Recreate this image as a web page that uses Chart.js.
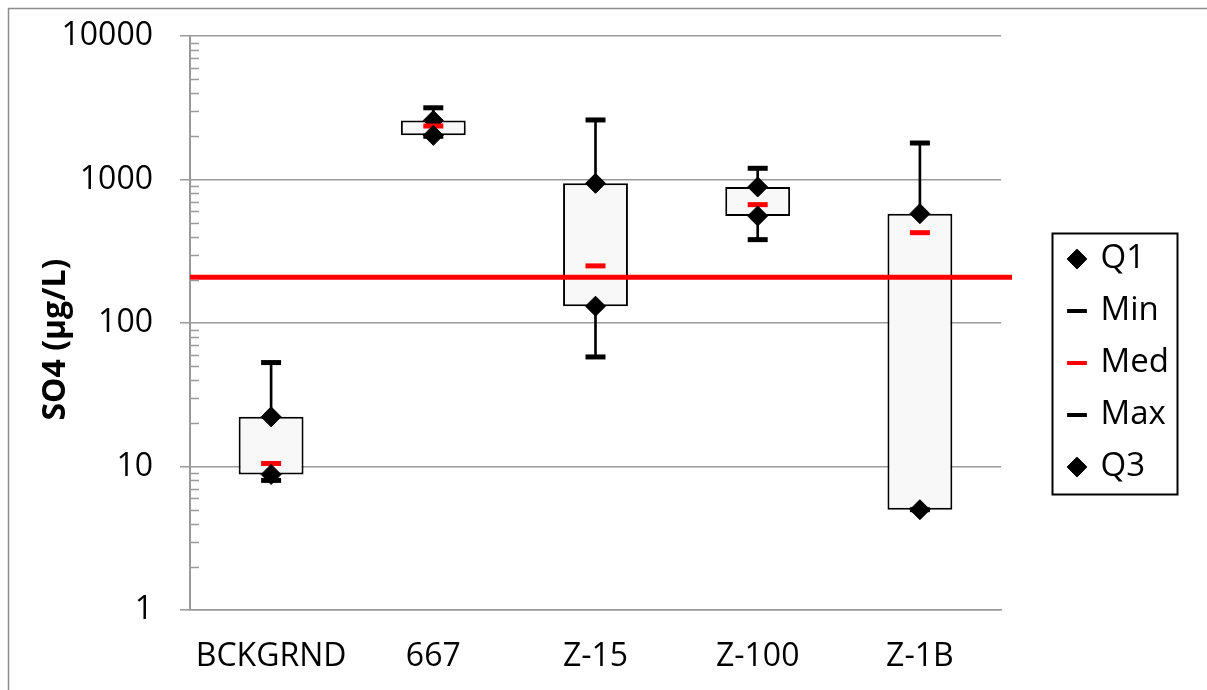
<!DOCTYPE html>
<html>
<head>
<meta charset="utf-8">
<script src="https://cdn.jsdelivr.net/npm/chart.js@4/dist/chart.umd.min.js"></script>
<style>
  body { margin: 0; background: #fff; }
  canvas { display: block; }
</style>
</head>
<body>
<canvas id="boxChart" width="1207" height="690"></canvas>
<script>
// data
const categories = ['BCKGRND', '667', 'Z-15', 'Z-100', 'Z-1B'];
const minVals = [8.0, 2000, 58, 381, 5.0];
const q1Vals  = [8.8, 2030, 131, 557, 5.0];
const medVals = [10.5, 2360, 250, 668, 426];
const q3Vals  = [22.2, 2580, 940, 887, 578];
const maxVals = [53, 3160, 2600, 1197, 1796];
const limitValue = 208;           // red guideline
const yTickValues = [1, 10, 100, 1000, 10000];

Chart.defaults.font.family = "'Open Sans', sans-serif";
Chart.defaults.color = '#000';

const axisGray = '#9a9a9a';

// frame, minor log ticks, red limit line, legend box
const extras = {
  id: 'extras',
  beforeDraw(chart) {
    const ctx = chart.ctx;
    ctx.save();
    ctx.strokeStyle = '#8c8c8c';
    ctx.lineWidth = 1.5;
    ctx.strokeRect(8.5, 8.5, 2000, 2000);
    ctx.restore();
  },
  afterDatasetsDraw(chart) {
    const ctx = chart.ctx;
    const y = chart.scales.y;
    const area = chart.chartArea;
    const py = y.getPixelForValue(limitValue);
    ctx.save();
    ctx.strokeStyle = '#ff0000';
    ctx.lineWidth = 5;
    ctx.beginPath();
    ctx.moveTo(area.left, py);
    ctx.lineTo(area.right + 11, py);
    ctx.stroke();
    ctx.restore();
  },
  afterDraw(chart) {
    const ctx = chart.ctx;
    const y = chart.scales.y;
    const x0 = chart.chartArea.left;
    ctx.save();
    ctx.strokeStyle = axisGray;
    ctx.lineWidth = 1.5;
    ctx.beginPath();
    for (let i = 0; i < yTickValues.length - 1; i++) {
      for (let k = 2; k <= 9; k++) {
        const py = Math.round(y.getPixelForValue(yTickValues[i] * k)) + 0.5;
        ctx.moveTo(x0, py);
        ctx.lineTo(x0 + 9, py);
      }
    }
    ctx.stroke();

    // border around the legend
    const boxes = chart.legend.legendHitBoxes;
    if (boxes && boxes.length) {
      const fs = 33;
      const left = Math.min(...boxes.map(b => b.left)) - 18;
      const right = Math.max(...boxes.map(b => b.left + b.width)) + 8;
      const top = boxes[0].top + fs / 2 - 26;
      const bottom = boxes[boxes.length - 1].top + fs / 2 + 27;
      ctx.strokeStyle = '#000';
      ctx.lineWidth = 2;
      ctx.strokeRect(Math.round(left) + 0.5, Math.round(top) + 0.5,
        Math.round(right - left), Math.round(bottom - top));
    }
    ctx.restore();
  }
};

function marker(label, data, style, color, order, width) {
  return {
    type: 'line',
    label: label,
    data: data,
    showLine: false,
    order: order,
    pointStyle: style,
    pointRadius: 10,
    pointHoverRadius: 10,
    pointBorderWidth: width,
    pointBorderColor: color,
    pointBackgroundColor: color,
    borderColor: color,
    backgroundColor: color
  };
}

new Chart(document.getElementById('boxChart'), {
  type: 'bar',
  data: {
    labels: categories,
    datasets: [
      marker('Q1', q1Vals, 'rectRot', '#000', 0, 1),
      marker('Min', minVals, 'line', '#000', 1, 5),
      marker('Med', medVals, 'line', '#ff0000', 2, 5),
      marker('Max', maxVals, 'line', '#000', 3, 5),
      marker('Q3', q3Vals, 'rectRot', '#000', 4, 1),
      {
        label: 'box',
        data: categories.map((c, i) => [q1Vals[i], q3Vals[i]]),
        order: 5,
        grouped: false,
        backgroundColor: '#f8f8f8',
        borderColor: '#000',
        borderWidth: 2,
        borderSkipped: false,
        barPercentage: 0.4,
        categoryPercentage: 1
      },
      {
        label: 'whisker',
        data: categories.map((c, i) => [minVals[i], maxVals[i]]),
        order: 6,
        grouped: false,
        backgroundColor: '#000',
        borderWidth: 0,
        barThickness: 2
      }
    ]
  },
  options: {
    responsive: false,
    animation: false,
    layout: { padding: { top: 36, left: 0, right: 36, bottom: 0 } },
    scales: {
      x: {
        grid: { display: false, drawTicks: false },
        border: { display: true, color: axisGray, width: 1.5 },
        ticks: { font: { size: 32 }, padding: 28, maxRotation: 0, autoSkip: false },
        afterFit: s => { s.height = 80; s.paddingLeft = 0; s.paddingRight = 0; }
      },
      y: {
        type: 'logarithmic',
        min: 1,
        max: 10000,
        afterBuildTicks: s => { s.ticks = yTickValues.map(v => ({ value: v })); },
        grid: { color: axisGray, lineWidth: 1.5, tickLength: 10, drawTicks: true },
        border: { display: true, color: axisGray, width: 2 },
        ticks: { font: { size: 32 }, padding: 27, autoSkip: false, callback: v => String(v) },
        title: {
          display: true,
          text: 'SO4 (µg/L)    ',
          font: { size: 32, weight: 'bold' },
          padding: { top: 37, bottom: 0 }
        },
        afterFit: s => { s.width = 190; s.paddingTop = 0; s.paddingBottom = 0; }
      },
      gap: {
        type: 'linear',
        position: 'right',
        display: true,
        grid: { display: false },
        border: { display: false },
        ticks: { display: false },
        afterFit: s => { s.width = 50; }
      }
    },
    plugins: {
      tooltip: { enabled: false },
      legend: {
        position: 'right',
        maxWidth: 120,
        labels: {
          usePointStyle: true,
          boxWidth: 14,
          boxHeight: 14,
          padding: 19,
          color: '#000',
          font: { size: 33 },
          filter: item => item.text !== 'box' && item.text !== 'whisker',
          generateLabels: chart => {
            const items = Chart.defaults.plugins.legend.labels.generateLabels(chart);
            items.forEach(it => { if (it.pointStyle === 'line') it.lineWidth = 4; });
            return items;
          }
        }
      }
    }
  },
  plugins: [extras]
});
</script>
</body>
</html>
